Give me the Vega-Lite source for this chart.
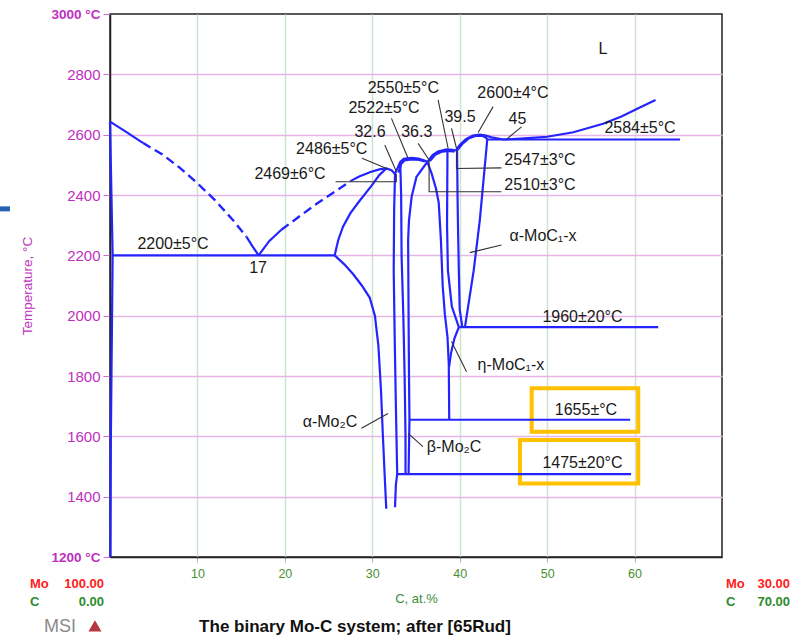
{
"$schema": "https://vega.github.io/schema/vega-lite/v6.json",
"width": 612, "height": 543,
"autosize": {"type": "none"},
"padding": {"left": 110, "top": 14, "right": 72, "bottom": 83},
"background": "white",
"config": {"view": {"stroke": "#222", "strokeWidth": 1.5}, "font": "Liberation Sans", "axis": {"labelFont": "Liberation Sans", "titleFont": "Liberation Sans"}},
"datasets": {
"phase": [
{"id":"a","i":0,"C":0,"T":2643},{"id":"a","i":1,"C":0.3,"T":2200},{"id":"a","i":2,"C":0.1,"T":1600},{"id":"a","i":3,"C":0.05,"T":1200},
{"id":"b","i":0,"C":0,"T":2643},{"id":"b","i":1,"C":1.8,"T":2610},{"id":"b","i":2,"C":3.75,"T":2573},
{"id":"c","i":0,"C":15.6,"T":2262},{"id":"c","i":1,"C":16.3,"T":2230},{"id":"c","i":2,"C":17,"T":2200},
{"id":"d","i":0,"C":17,"T":2200},{"id":"d","i":1,"C":18.2,"T":2247},{"id":"d","i":2,"C":19.6,"T":2285},
{"id":"e","i":0,"C":27.5,"T":2446},{"id":"e","i":1,"C":28.5,"T":2461},{"id":"e","i":2,"C":29.8,"T":2476},{"id":"e","i":3,"C":30.8,"T":2485},{"id":"e","i":4,"C":31.6,"T":2488},{"id":"e","i":5,"C":32.2,"T":2482},{"id":"e","i":6,"C":32.6,"T":2470},
{"id":"f","i":0,"C":0.3,"T":2200},{"id":"f","i":1,"C":25.7,"T":2200},
{"id":"g","i":0,"C":25.7,"T":2200},{"id":"g","i":1,"C":26.1,"T":2250},{"id":"g","i":2,"C":26.65,"T":2295},{"id":"g","i":3,"C":27.5,"T":2340},{"id":"g","i":4,"C":28.4,"T":2375},{"id":"g","i":5,"C":29.9,"T":2430},{"id":"g","i":6,"C":30.8,"T":2466},{"id":"g","i":7,"C":31.6,"T":2488},
{"id":"h","i":0,"C":25.7,"T":2200},{"id":"h","i":1,"C":26.8,"T":2170},{"id":"h","i":2,"C":27.8,"T":2138},{"id":"h","i":3,"C":28.8,"T":2100},{"id":"h","i":4,"C":29.7,"T":2060},{"id":"h","i":5,"C":30.3,"T":2000},{"id":"h","i":6,"C":30.7,"T":1900},{"id":"h","i":7,"C":31.0,"T":1750},{"id":"h","i":8,"C":31.2,"T":1610},{"id":"h","i":9,"C":31.45,"T":1450},{"id":"h","i":10,"C":31.6,"T":1360},
{"id":"i","i":0,"C":32.6,"T":2470},{"id":"i","i":1,"C":32.5,"T":2350},{"id":"i","i":2,"C":32.45,"T":2150},{"id":"i","i":3,"C":32.55,"T":1950},{"id":"i","i":4,"C":32.7,"T":1700},{"id":"i","i":5,"C":32.85,"T":1475},{"id":"i","i":6,"C":32.7,"T":1440},{"id":"i","i":7,"C":32.6,"T":1365},
{"id":"j","i":0,"C":32.6,"T":2470},{"id":"j","i":1,"C":32.9,"T":2490},{"id":"j","i":2,"C":33.2,"T":2510},{"id":"j","i":3,"C":33.6,"T":2520},{"id":"j","i":4,"C":34.5,"T":2523},{"id":"j","i":5,"C":35.3,"T":2521},{"id":"j","i":6,"C":35.9,"T":2515},{"id":"j","i":7,"C":36.3,"T":2510},
{"id":"j2","i":0,"C":33.0,"T":2474},{"id":"j2","i":1,"C":33.3,"T":2503},{"id":"j2","i":2,"C":33.7,"T":2515},{"id":"j2","i":3,"C":34.5,"T":2518},{"id":"j2","i":4,"C":35.4,"T":2516},{"id":"j2","i":5,"C":36.0,"T":2511},
{"id":"k","i":0,"C":33.2,"T":2507},{"id":"k","i":1,"C":33.3,"T":2400},{"id":"k","i":2,"C":33.35,"T":2200},{"id":"k","i":3,"C":33.55,"T":2000},{"id":"k","i":4,"C":33.7,"T":1800},{"id":"k","i":5,"C":33.8,"T":1600},{"id":"k","i":6,"C":33.8,"T":1475},
{"id":"l","i":0,"C":36.3,"T":2510},{"id":"l","i":1,"C":35.6,"T":2482},{"id":"l","i":2,"C":35.05,"T":2460},{"id":"l","i":3,"C":34.5,"T":2394},{"id":"l","i":4,"C":34.2,"T":2317},{"id":"l","i":5,"C":34.1,"T":2251},{"id":"l","i":6,"C":34.15,"T":2000},{"id":"l","i":7,"C":34.2,"T":1800},{"id":"l","i":8,"C":34.25,"T":1655},{"id":"l","i":9,"C":34.15,"T":1475},
{"id":"m","i":0,"C":32.85,"T":1475},{"id":"m","i":1,"C":59.6,"T":1475},
{"id":"n","i":0,"C":34.25,"T":1655},{"id":"n","i":1,"C":59.5,"T":1655},
{"id":"o","i":0,"C":36.3,"T":2510},{"id":"o","i":1,"C":36.9,"T":2532},{"id":"o","i":2,"C":37.5,"T":2544},{"id":"o","i":3,"C":38.5,"T":2551},{"id":"o","i":4,"C":39.2,"T":2550},{"id":"o","i":5,"C":39.55,"T":2547},
{"id":"o2","i":0,"C":36.6,"T":2513},{"id":"o2","i":1,"C":37.2,"T":2533},{"id":"o2","i":2,"C":38.0,"T":2544},{"id":"o2","i":3,"C":38.8,"T":2546},{"id":"o2","i":4,"C":39.4,"T":2544},
{"id":"p","i":0,"C":36.3,"T":2510},{"id":"p","i":1,"C":36.8,"T":2470},{"id":"p","i":2,"C":37.3,"T":2420},{"id":"p","i":3,"C":37.6,"T":2374},{"id":"p","i":4,"C":37.85,"T":2251},{"id":"p","i":5,"C":38.05,"T":2100},{"id":"p","i":6,"C":38.3,"T":2005},{"id":"p","i":7,"C":38.6,"T":1930},{"id":"p","i":8,"C":38.75,"T":1840},{"id":"p","i":9,"C":38.8,"T":1655},
{"id":"q","i":0,"C":38.6,"T":2549},{"id":"q","i":1,"C":38.55,"T":2300},{"id":"q","i":2,"C":38.65,"T":2150},{"id":"q","i":3,"C":39.1,"T":2030},{"id":"q","i":4,"C":39.9,"T":1962},{"id":"q","i":5,"C":39.4,"T":1925},{"id":"q","i":6,"C":39.0,"T":1875},{"id":"q","i":7,"C":38.78,"T":1830},
{"id":"r","i":0,"C":39.55,"T":2547},{"id":"r","i":1,"C":40.0,"T":2566},{"id":"r","i":2,"C":40.7,"T":2585},{"id":"r","i":3,"C":41.5,"T":2597},{"id":"r","i":4,"C":42.3,"T":2600},{"id":"r","i":5,"C":43.0,"T":2597},{"id":"r","i":6,"C":43.8,"T":2590},{"id":"r","i":7,"C":45.0,"T":2584},
{"id":"r2","i":0,"C":39.7,"T":2548},{"id":"r2","i":1,"C":40.3,"T":2569},{"id":"r2","i":2,"C":41.0,"T":2587},{"id":"r2","i":3,"C":41.8,"T":2596},{"id":"r2","i":4,"C":42.6,"T":2596},{"id":"r2","i":5,"C":43.0,"T":2590},{"id":"r2","i":6,"C":43.15,"T":2584},
{"id":"s","i":0,"C":39.7,"T":2548},{"id":"s","i":1,"C":39.75,"T":2400},{"id":"s","i":2,"C":39.8,"T":2300},{"id":"s","i":3,"C":39.9,"T":2150},{"id":"s","i":4,"C":40.0,"T":2020},{"id":"s","i":5,"C":40.3,"T":1962},
{"id":"t","i":0,"C":43.15,"T":2584},{"id":"t","i":1,"C":42.3,"T":2317},{"id":"t","i":2,"C":41.6,"T":2150},{"id":"t","i":3,"C":40.6,"T":1962},
{"id":"u","i":0,"C":39.9,"T":1962},{"id":"u","i":1,"C":62.7,"T":1962},
{"id":"v","i":0,"C":43.15,"T":2584},{"id":"v","i":1,"C":65.2,"T":2584},
{"id":"w","i":0,"C":45,"T":2584},{"id":"w","i":1,"C":47,"T":2587},{"id":"w","i":2,"C":50,"T":2593},{"id":"w","i":3,"C":53,"T":2608},{"id":"w","i":4,"C":56.4,"T":2636},{"id":"w","i":5,"C":58.5,"T":2660},{"id":"w","i":6,"C":60.6,"T":2690},{"id":"w","i":7,"C":62.4,"T":2715}
],
"dashed": [
{"id":"D1","i":0,"C":3.75,"T":2573},{"id":"D1","i":1,"C":6,"T":2534},{"id":"D1","i":2,"C":8,"T":2490},{"id":"D1","i":3,"C":10,"T":2439},{"id":"D1","i":4,"C":12,"T":2383},{"id":"D1","i":5,"C":14,"T":2319},{"id":"D1","i":6,"C":15.6,"T":2262},
{"id":"D2","i":0,"C":19.6,"T":2285},{"id":"D2","i":1,"C":23.6,"T":2370},{"id":"D2","i":2,"C":27.5,"T":2446}
],
"leaders": [
{"id":"L1","i":0,"C":25.8,"T":2444},{"id":"L1","i":1,"C":32.75,"T":2444},{"id":"L1","i":2,"C":32.75,"T":2470},
{"id":"L2","i":0,"C":28.83,"T":2522},{"id":"L2","i":1,"C":31.77,"T":2486},
{"id":"L3","i":0,"C":31.43,"T":2566},{"id":"L3","i":1,"C":32.76,"T":2477},
{"id":"L4","i":0,"C":32.19,"T":2654},{"id":"L4","i":1,"C":34.09,"T":2522},
{"id":"L5","i":0,"C":35.24,"T":2571},{"id":"L5","i":1,"C":36.5,"T":2516},
{"id":"L6","i":0,"C":37.53,"T":2715},{"id":"L6","i":1,"C":38.67,"T":2555},
{"id":"L7","i":0,"C":39.06,"T":2621},{"id":"L7","i":1,"C":39.63,"T":2555},
{"id":"L8","i":0,"C":43.82,"T":2693},{"id":"L8","i":1,"C":42.11,"T":2607},
{"id":"L9","i":0,"C":47.07,"T":2626},{"id":"L9","i":1,"C":45.36,"T":2585},
{"id":"L10","i":0,"C":39.63,"T":2549},{"id":"L10","i":1,"C":39.63,"T":2488},{"id":"L10","i":2,"C":44.78,"T":2490},
{"id":"L11","i":0,"C":36.5,"T":2516},{"id":"L11","i":1,"C":36.5,"T":2411},{"id":"L11","i":2,"C":44.78,"T":2411},
{"id":"L12","i":0,"C":44.78,"T":2234},{"id":"L12","i":1,"C":41.15,"T":2209},
{"id":"L13","i":0,"C":40.78,"T":1814},{"id":"L13","i":1,"C":39.06,"T":1914},
{"id":"L14","i":0,"C":28.76,"T":1627},{"id":"L14","i":1,"C":31.8,"T":1676},
{"id":"L15","i":0,"C":35.8,"T":1566},{"id":"L15","i":1,"C":34.1,"T":1610}
],
"labels": [
{"C":7.21,"T":2238,"txt":"2200±5°C"},{"C":16.93,"T":2158,"txt":"17"},{"C":20.59,"T":2470,"txt":"2469±6°C"},
{"C":25.36,"T":2552,"txt":"2486±5°C"},{"C":29.74,"T":2610,"txt":"32.6"},{"C":31.34,"T":2687,"txt":"2522±5°C"},
{"C":35.08,"T":2610,"txt":"36.3"},{"C":33.55,"T":2754,"txt":"2550±5°C"},{"C":40.03,"T":2660,"txt":"39.5"},
{"C":46.09,"T":2737,"txt":"2600±4°C"},{"C":46.61,"T":2652,"txt":"45"},{"C":49.18,"T":2516,"txt":"2547±3°C"},
{"C":49.18,"T":2433,"txt":"2510±3°C"},{"C":49.53,"T":2264,"txt":"α-MoC₁-x"},{"C":45.86,"T":1836,"txt":"η-MoC₁-x"},
{"C":25.16,"T":1646,"txt":"α-Mo₂C"},{"C":39.35,"T":1566,"txt":"β-Mo₂C"},{"C":54.04,"T":1997,"txt":"1960±20°C"},
{"C":54.44,"T":1687,"txt":"1655±°C"},{"C":54.04,"T":1510,"txt":"1475±20°C"},{"C":60.62,"T":2621,"txt":"2584±5°C"},
{"C":56.39,"T":2884,"txt":"L"}
],
"boxes": [
{"C":48.23,"C2":60.42,"T":1759,"T2":1615},
{"C":46.89,"C2":60.42,"T":1588,"T2":1444}
],
"comp": [
{"C":-9.15,"T":1110.5,"txt":"Mo","el":"Mo","part":"name"},{"C":-0.69,"T":1110.5,"txt":"100.00","el":"Mo","part":"value"},
{"C":-9.15,"T":1050.8,"txt":"C","el":"C","part":"name"},{"C":-0.69,"T":1050.8,"txt":"0.00","el":"C","part":"value"},
{"C":70.46,"T":1110.5,"txt":"Mo","el":"Mo","part":"name"},{"C":77.78,"T":1110.5,"txt":"30.00","el":"Mo","part":"value"},
{"C":70.46,"T":1050.8,"txt":"C","el":"C","part":"name"},{"C":77.78,"T":1050.8,"txt":"70.00","el":"C","part":"value"}
],
"foot": [{"C":28.02,"T":968,"txt":"The binary Mo-C system; after [65Rud]"}],
"logo": [{"C":-5.72,"T":968,"txt":"MSI"}],
"logomark": [{"C":-1.72,"T":972}],
"dash": [{"C":-12.58,"C2":-11.44,"T":2354}]
},
"encoding": {
"x": {"field": "C", "type": "quantitative", "scale": {"domain": [0, 70], "nice": false, "zero": false},
 "axis": {"values": [10, 20, 30, 40, 50, 60], "title": "C, at.%", "titleColor": "#3c8c3c", "titleFontSize": 13, "titleFontWeight": "normal", "titleY": 41, "titleBaseline": "middle",
  "labelColor": "#4a8f32", "labelFontSize": 12.5, "tickColor": "#9cc79c", "tickSize": 5, "labelPadding": 5, "domainColor": "#222", "domainWidth": 1.5, "grid": true, "gridColor": "#cfe4cf", "gridWidth": 1.5}},
"y": {"field": "T", "type": "quantitative", "scale": {"domain": [1200, 3000], "nice": false, "zero": false},
 "axis": {"values": [1200, 1400, 1600, 1800, 2000, 2200, 2400, 2600, 2800, 3000], "format": "d",
  "labelExpr": "(datum.value == 3000 || datum.value == 1200) ? datum.value + ' °C' : '' + datum.value",
  "labelColor": "#c030c0",
  "labelFontSize": {"condition": {"test": "datum.value == 3000 || datum.value == 1200", "value": 13.5}, "value": 15},
  "labelFontWeight": {"condition": {"test": "datum.value == 3000 || datum.value == 1200", "value": "bold"}, "value": "normal"},
  "tickColor": "#d070d0", "tickSize": 7, "labelPadding": 3, "domainColor": "#222", "domainWidth": 1.5,
  "grid": true, "gridColor": {"condition": {"test": "datum.value == 3000 || datum.value == 1200", "value": "rgba(0,0,0,0)"}, "value": "#e6b6e6"}, "gridWidth": 1.5,
  "title": "Temperature, °C", "titleColor": "#c030c0", "titleFontSize": 13.5, "titleFontWeight": "normal", "titleX": -83, "titleY": 271.5, "titleAngle": -90, "titleBaseline": "middle", "titleAlign": "center"}}
},
"layer": [
{"data": {"name": "boxes"}, "mark": {"type": "rect", "fill": "transparent", "stroke": "#ffc000", "strokeWidth": 4}, "encoding": {"x2": {"field": "C2"}, "y2": {"field": "T2"}}},
{"data": {"name": "phase"}, "mark": {"type": "line", "color": "#2424ff", "strokeWidth": 2.2}, "encoding": {"detail": {"field": "id", "type": "nominal"}, "order": {"field": "i", "type": "quantitative"}}},
{"data": {"name": "dashed"}, "mark": {"type": "line", "color": "#2424ff", "strokeWidth": 2.4, "strokeDash": [9, 5]}, "encoding": {"detail": {"field": "id", "type": "nominal"}, "order": {"field": "i", "type": "quantitative"}}},
{"data": {"name": "leaders"}, "mark": {"type": "line", "color": "#333333", "strokeWidth": 1.1}, "encoding": {"detail": {"field": "id", "type": "nominal"}, "order": {"field": "i", "type": "quantitative"}}},
{"data": {"name": "labels"}, "mark": {"type": "text", "fontSize": 16, "color": "#1a1a1a", "align": "center", "baseline": "middle", "font": "Liberation Sans"}, "encoding": {"text": {"field": "txt"}}},
{"data": {"name": "comp"}, "transform": [{"filter": "datum.part == 'name'"}], "mark": {"type": "text", "fontSize": 13, "fontWeight": "bold", "align": "left", "baseline": "middle"}, "encoding": {"text": {"field": "txt"}, "color": {"field": "el", "type": "nominal", "scale": {"domain": ["Mo", "C"], "range": ["#ff2020", "#2e8b2e"]}, "legend": null}}},
{"data": {"name": "comp"}, "transform": [{"filter": "datum.part == 'value'"}], "mark": {"type": "text", "fontSize": 13, "fontWeight": "bold", "align": "right", "baseline": "middle"}, "encoding": {"text": {"field": "txt"}, "color": {"field": "el", "type": "nominal", "scale": {"domain": ["Mo", "C"], "range": ["#ff2020", "#2e8b2e"]}, "legend": null}}},
{"data": {"name": "foot"}, "mark": {"type": "text", "fontSize": 17, "fontWeight": "bold", "color": "#111", "align": "center", "baseline": "middle"}, "encoding": {"text": {"field": "txt"}}},
{"data": {"name": "logo"}, "mark": {"type": "text", "fontSize": 18, "color": "#8a8a8a", "align": "center", "baseline": "middle"}, "encoding": {"text": {"field": "txt"}}},
{"data": {"name": "logomark"}, "mark": {"type": "point", "shape": "triangle-up", "filled": true, "color": "#b5373f", "size": 170, "opacity": 1}},
{"data": {"name": "dash"}, "mark": {"type": "rule", "color": "#2462b4", "strokeWidth": 5}, "encoding": {"x2": {"field": "C2"}}}
]
}
